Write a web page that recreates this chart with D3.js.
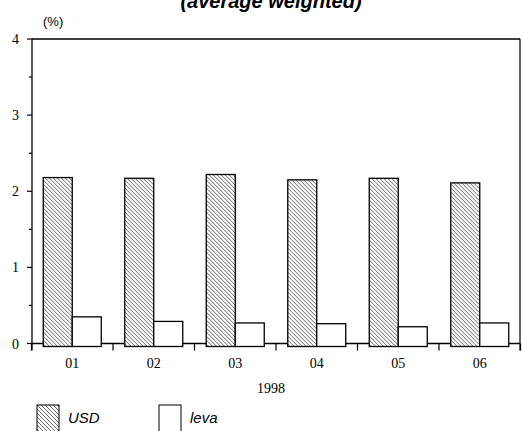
<!DOCTYPE html>
<html>
<head>
<meta charset="utf-8">
<script src="https://cdn.jsdelivr.net/npm/d3@7"></script>
<style>
  body { margin: 0; background: #fff; }
  svg { display: block; }
</style>
</head>
<body>
<svg id="chart" width="522" height="431"></svg>
<script>
const months = ["01", "02", "03", "04", "05", "06"];
const usd = [2.18, 2.17, 2.22, 2.15, 2.17, 2.11];
const leva = [0.35, 0.29, 0.27, 0.26, 0.22, 0.27];
const yTicks = [0, 1, 2, 3, 4];
const yMinorTicks = [0.5, 1.5, 2.5, 3.5];
const seriesNames = ["USD", "leva"];
const title = "(average weighted)";
const unitLabel = "(%)";
const xTitle = "1998";

const svg = d3.select("#chart");
const pLeft = 32, pRight = 520, pTop = 39, pBottom = 343.5;

const defs = svg.append("defs");
const pat = defs.append("pattern")
  .attr("id", "hatch").attr("patternUnits", "userSpaceOnUse")
  .attr("width", 4).attr("height", 4);
pat.append("rect").attr("width", 4).attr("height", 4).attr("fill", "#fff");
pat.append("path").attr("d", "M-1,-1 L5,5 M-1,3 L1,5 M3,-1 L5,1")
  .attr("stroke", "#555").attr("stroke-width", 0.9);

const x = d3.scaleBand().domain(months).range([pLeft - 0.5, pRight + 0.5]).paddingInner(0).paddingOuter(0);
const inner = d3.scaleBand().domain(seriesNames).range([0, 58]);
const y = d3.scaleLinear().domain([0, 4]).range([pBottom, pTop]);

// frame top and right
svg.append("line").attr("x1", pLeft).attr("x2", pRight).attr("y1", y(4)).attr("y2", y(4))
  .attr("stroke", "#000").attr("stroke-width", 1.5);
svg.append("line").attr("x1", pRight).attr("x2", pRight).attr("y1", y(4)).attr("y2", pBottom + 7)
  .attr("stroke", "#000").attr("stroke-width", 1.2);

// x axis
const xAxis = svg.append("g").attr("transform", `translate(0,${pBottom})`);
xAxis.append("line").attr("x1", pLeft).attr("x2", pRight).attr("stroke", "#000").attr("stroke-width", 1.3);
const bounds = months.map(m => x(m)).concat([x(months[months.length - 1]) + x.bandwidth()]);
xAxis.selectAll("line.tick").data(bounds).enter().append("line")
  .attr("class", "tick").attr("x1", d => d).attr("x2", d => d).attr("y1", 0).attr("y2", 7)
  .attr("stroke", "#000").attr("stroke-width", 1.2);
xAxis.selectAll("text").data(months).enter().append("text")
  .attr("x", d => x(d) + x.bandwidth() / 2).attr("y", 24)
  .attr("text-anchor", "middle").attr("font-family", "Liberation Serif, Times New Roman, serif")
  .attr("font-size", 14).text(d => d);

// y axis
const yAxis = svg.append("g").attr("transform", `translate(${pLeft},0)`);
yAxis.append("line").attr("y1", y(0) + 7).attr("y2", y(4)).attr("stroke", "#000").attr("stroke-width", 1.3);
yAxis.selectAll("line.maj").data(yTicks).enter().append("line").attr("class", "maj")
  .attr("x1", -5).attr("x2", 0).attr("y1", d => y(d)).attr("y2", d => y(d))
  .attr("stroke", "#000").attr("stroke-width", 1.2);
yAxis.selectAll("line.min").data(yMinorTicks).enter().append("line").attr("class", "min")
  .attr("x1", -3).attr("x2", 0).attr("y1", d => y(d)).attr("y2", d => y(d))
  .attr("stroke", "#000").attr("stroke-width", 1.2);
yAxis.selectAll("text").data(yTicks).enter().append("text")
  .attr("x", -13).attr("y", d => y(d) + 5)
  .attr("text-anchor", "end").attr("font-family", "Liberation Serif, Times New Roman, serif")
  .attr("font-size", 14).text(d => d);

// bars
const groups = svg.selectAll("g.grp").data(months).enter().append("g")
  .attr("transform", d => `translate(${x(d) + x.bandwidth() / 2 - 29},0)`);
groups.append("rect")
  .attr("x", inner("USD")).attr("width", inner.bandwidth())
  .attr("y", (d, i) => y(usd[i])).attr("height", (d, i) => y(0) - y(usd[i]) + 3)
  .attr("fill", "url(#hatch)").attr("stroke", "#000").attr("stroke-width", 1.3);
groups.append("rect")
  .attr("x", inner("leva")).attr("width", inner.bandwidth())
  .attr("y", (d, i) => y(leva[i])).attr("height", (d, i) => y(0) - y(leva[i]) + 3)
  .attr("fill", "#fff").attr("stroke", "#000").attr("stroke-width", 1.3);

// titles
svg.append("text").attr("x", 271).attr("y", 8).attr("text-anchor", "middle")
  .attr("font-family", "Liberation Sans, Arial, sans-serif").attr("font-size", 20)
  .attr("font-weight", "bold").attr("font-style", "italic").text(title);
svg.append("text").attr("x", 43).attr("y", 26)
  .attr("font-family", "Liberation Sans, Arial, sans-serif").attr("font-size", 13).text(unitLabel);
svg.append("text").attr("x", 271).attr("y", 393).attr("text-anchor", "middle")
  .attr("font-family", "Liberation Serif, Times New Roman, serif").attr("font-size", 14).text(xTitle);

// legend
const legendX = [37, 159];
const legend = svg.selectAll("g.leg").data(seriesNames).enter().append("g")
  .attr("transform", (d, i) => `translate(${legendX[i]},405)`);
legend.append("rect").attr("width", 22).attr("height", 30)
  .attr("fill", (d, i) => i === 0 ? "url(#hatch)" : "#fff").attr("stroke", "#000").attr("stroke-width", 1);
legend.append("text").attr("x", 31).attr("y", 18)
  .attr("font-family", "Liberation Sans, Arial, sans-serif").attr("font-size", 15)
  .attr("font-style", "italic").text(d => d);
</script>
</body>
</html>
